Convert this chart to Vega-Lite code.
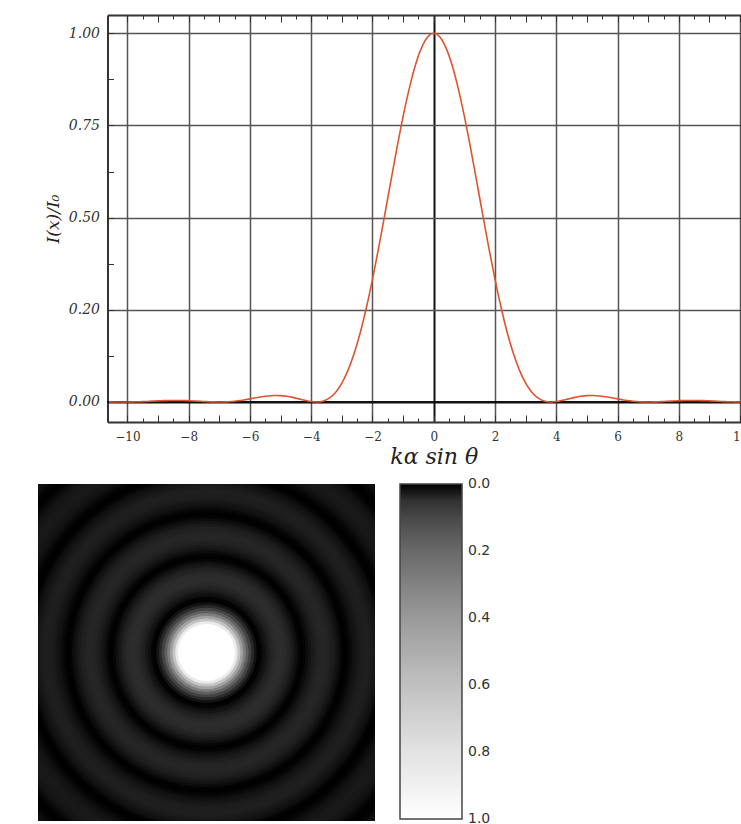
{
  "$schema": "https://vega.github.io/schema/vega-lite/v6.json",
  "background": "white",
  "padding": {"left": 38, "top": 14, "right": 0, "bottom": 0},
  "spacing": 17,
  "resolve": {"scale": {"color": "independent"}, "legend": {"color": "independent"}},
  "vconcat": [
    {
      "width": 722,
      "height": 407,
      "view": {"stroke": null},
      "data": {"values": [
        {"x": -10.6, "I": 0.0004}, {"x": -10.4, "I": 0.0001}, {"x": -10.2, "I": 0.0}, {"x": -10.0, "I": 0.0001},
        {"x": -9.8, "I": 0.0004}, {"x": -9.6, "I": 0.0008}, {"x": -9.4, "I": 0.0015}, {"x": -9.2, "I": 0.0022},
        {"x": -9.0, "I": 0.003}, {"x": -8.8, "I": 0.0036}, {"x": -8.6, "I": 0.004}, {"x": -8.4, "I": 0.0042},
        {"x": -8.2, "I": 0.004}, {"x": -8.0, "I": 0.0034}, {"x": -7.8, "I": 0.0027}, {"x": -7.6, "I": 0.0018},
        {"x": -7.4, "I": 0.0009}, {"x": -7.2, "I": 0.0002}, {"x": -7.0, "I": 0.0}, {"x": -6.8, "I": 0.0004},
        {"x": -6.6, "I": 0.0014}, {"x": -6.4, "I": 0.0032}, {"x": -6.2, "I": 0.0056}, {"x": -6.0, "I": 0.0085},
        {"x": -5.8, "I": 0.0115}, {"x": -5.6, "I": 0.0143}, {"x": -5.4, "I": 0.0164}, {"x": -5.2, "I": 0.0174},
        {"x": -5.0, "I": 0.0172}, {"x": -4.8, "I": 0.0155}, {"x": -4.6, "I": 0.0125}, {"x": -4.4, "I": 0.0085},
        {"x": -4.2, "I": 0.0044}, {"x": -4.0, "I": 0.0011}, {"x": -3.8, "I": 0.0}, {"x": -3.6, "I": 0.0028},
        {"x": -3.4, "I": 0.0111}, {"x": -3.2, "I": 0.0267}, {"x": -3.0, "I": 0.0511}, {"x": -2.8, "I": 0.0856},
        {"x": -2.6, "I": 0.1312}, {"x": -2.4, "I": 0.1879}, {"x": -2.2, "I": 0.2555}, {"x": -2.0, "I": 0.3326},
        {"x": -1.8, "I": 0.4175}, {"x": -1.6, "I": 0.5075}, {"x": -1.4, "I": 0.5993}, {"x": -1.2, "I": 0.6897},
        {"x": -1.0, "I": 0.7748}, {"x": -0.8, "I": 0.8501}, {"x": -0.6, "I": 0.9133}, {"x": -0.4, "I": 0.9604},
        {"x": -0.2, "I": 0.99}, {"x": 0.0, "I": 1.0},
        {"x": 0.2, "I": 0.99}, {"x": 0.4, "I": 0.9604}, {"x": 0.6, "I": 0.9133}, {"x": 0.8, "I": 0.8501},
        {"x": 1.0, "I": 0.7748}, {"x": 1.2, "I": 0.6897}, {"x": 1.4, "I": 0.5993}, {"x": 1.6, "I": 0.5075},
        {"x": 1.8, "I": 0.4175}, {"x": 2.0, "I": 0.3326}, {"x": 2.2, "I": 0.2555}, {"x": 2.4, "I": 0.1879},
        {"x": 2.6, "I": 0.1312}, {"x": 2.8, "I": 0.0856}, {"x": 3.0, "I": 0.0511}, {"x": 3.2, "I": 0.0267},
        {"x": 3.4, "I": 0.0111}, {"x": 3.6, "I": 0.0028}, {"x": 3.8, "I": 0.0}, {"x": 4.0, "I": 0.0011},
        {"x": 4.2, "I": 0.0044}, {"x": 4.4, "I": 0.0085}, {"x": 4.6, "I": 0.0125}, {"x": 4.8, "I": 0.0155},
        {"x": 5.0, "I": 0.0172}, {"x": 5.2, "I": 0.0174}, {"x": 5.4, "I": 0.0164}, {"x": 5.6, "I": 0.0143},
        {"x": 5.8, "I": 0.0115}, {"x": 6.0, "I": 0.0085}, {"x": 6.2, "I": 0.0056}, {"x": 6.4, "I": 0.0032},
        {"x": 6.6, "I": 0.0014}, {"x": 6.8, "I": 0.0004}, {"x": 7.0, "I": 0.0}, {"x": 7.2, "I": 0.0002},
        {"x": 7.4, "I": 0.0009}, {"x": 7.6, "I": 0.0018}, {"x": 7.8, "I": 0.0027}, {"x": 8.0, "I": 0.0034},
        {"x": 8.2, "I": 0.004}, {"x": 8.4, "I": 0.0042}, {"x": 8.6, "I": 0.004}, {"x": 8.8, "I": 0.0036},
        {"x": 9.0, "I": 0.003}, {"x": 9.2, "I": 0.0022}, {"x": 9.4, "I": 0.0015}, {"x": 9.6, "I": 0.0008},
        {"x": 9.8, "I": 0.0004}, {"x": 10.0, "I": 0.0001}, {"x": 10.2, "I": 0.0}, {"x": 10.4, "I": 0.0001},
        {"x": 10.6, "I": 0.0004}
      ]},
      "layer": [
        {
          "mark": {"type": "rule", "color": "#111111", "strokeWidth": 2},
          "encoding": {
            "x": {"datum": -10.65, "type": "quantitative",
              "axis": {
                "orient": "top", "title": null, "labels": false, "grid": false,
                "domain": true, "domainColor": "#333333", "domainWidth": 2,
                "values": [-10,-9.5,-9,-8.5,-8,-7.5,-7,-6.5,-6,-5.5,-5,-4.5,-4,-3.5,-3,-2.5,-2,-1.5,-1,-0.5,0,0.5,1,1.5,2,2.5,3,3.5,4,4.5,5,5.5,6,6.5,7,7.5,8,8.5,9,9.5,10],
                "tickColor": "#333333", "tickWidth": 1,
                "tickSize": {"condition": {"test": "datum.value % 1 === 0", "value": -7}, "value": -4}
              }},
            "x2": {"datum": 10.65},
            "y": {"datum": 0, "type": "quantitative"}
          }
        },
        {
          "mark": {"type": "line", "color": "#dd5530", "strokeWidth": 1.6, "interpolate": "monotone", "clip": true},
          "encoding": {
            "x": {"field": "x", "type": "quantitative",
              "scale": {"domain": [-10.65, 10.65], "range": [69.5, 722], "nice": false, "zero": false},
              "axis": {
                "orient": "bottom",
                "values": [-10,-9.5,-9,-8.5,-8,-7.5,-7,-6.5,-6,-5.5,-5,-4.5,-4,-3.5,-3,-2.5,-2,-1.5,-1,-0.5,0,0.5,1,1.5,2,2.5,3,3.5,4,4.5,5,5.5,6,6.5,7,7.5,8,8.5,9,9.5,10],
                "title": "kα sin θ",
                "titleFont": "DejaVu Serif", "titleFontSize": 22, "titleFontStyle": "italic", "titleFontWeight": "normal", "titleColor": "#222222", "titlePadding": 1,
                "domain": true, "domainColor": "#333333", "domainWidth": 2,
                "grid": true,
                "gridColor": {"condition": {"test": "datum.value === 0", "value": "#111111"}, "value": "#555555"},
                "gridOpacity": {"condition": {"test": "datum.value % 2 === 0", "value": 1}, "value": 0},
                "gridWidth": {"condition": {"test": "datum.value === 0", "value": 2}, "value": 1.5},
                "tickColor": "#333333", "tickWidth": 1,
                "tickSize": {"condition": {"test": "datum.value % 1 === 0", "value": -7}, "value": -4},
                "labelExpr": "datum.value % 2 === 0 ? format(datum.value, 'd') : ''",
                "labelFont": "DejaVu Serif", "labelFontSize": 12, "labelColor": "#333333",
                "labelPadding": 16, "labelOverlap": false, "labelFlush": false, "labelBound": false
              }},
            "y": {"field": "I", "type": "quantitative",
              "scale": {"domain": [-0.0543, 1.0497], "nice": false, "zero": false},
              "axis": {
                "orient": "left",
                "offset": -69.5,
                "values": [0,0.0625,0.125,0.1875,0.25,0.3125,0.375,0.4375,0.5,0.5625,0.625,0.6875,0.75,0.8125,0.875,0.9375,1],
                "title": "I(x)/I₀",
                "titleFont": "DejaVu Serif", "titleFontSize": 17, "titleFontStyle": "italic", "titleFontWeight": "normal", "titleColor": "#222222", "titlePadding": 6,
                "domain": true, "domainColor": "#333333", "domainWidth": 2,
                "grid": true,
                "gridColor": {"condition": {"test": "datum.value === 0", "value": "#111111"}, "value": "#555555"},
                "gridOpacity": {"condition": {"test": "datum.value * 4 % 1 === 0", "value": 1}, "value": 0},
                "gridWidth": {"condition": {"test": "datum.value === 0", "value": 2}, "value": 1.5},
                "tickColor": "#333333", "tickWidth": 1,
                "tickSize": {"condition": {"test": "datum.value * 8 % 1 === 0", "value": -6}, "value": -4},
                "labelExpr": "datum.value === 0.25 ? '0.20' : (datum.value * 4 % 1 === 0 ? format(datum.value, '.2f') : '')",
                "labelFont": "DejaVu Serif", "labelFontStyle": "italic", "labelFontSize": 14, "labelColor": "#333333",
                "labelPadding": 14, "labelOverlap": false, "labelFlush": false, "labelBound": false
              }}
          }
        }
      ],
      "resolve": {"axis": {"x": "independent"}}
    },
    {
      "width": 337,
      "height": 337,
      "view": {"fill": "#000000", "stroke": null},
      "data": {"values": [
        {"r": 17.7, "v": 0.0103}, {"r": 17.5, "v": 0.0081}, {"r": 17.3, "v": 0.0056}, {"r": 17.1, "v": 0.0032},
        {"r": 16.9, "v": 0.0013}, {"r": 16.7, "v": 0.0002}, {"r": 16.5, "v": 0.0001}, {"r": 16.3, "v": 0.0011},
        {"r": 16.1, "v": 0.0031}, {"r": 15.9, "v": 0.0058}, {"r": 15.7, "v": 0.0088}, {"r": 15.5, "v": 0.0115},
        {"r": 15.3, "v": 0.0137}, {"r": 15.1, "v": 0.0148}, {"r": 14.9, "v": 0.0149}, {"r": 14.7, "v": 0.0137},
        {"r": 14.5, "v": 0.0116}, {"r": 14.3, "v": 0.0088}, {"r": 14.1, "v": 0.0059}, {"r": 13.9, "v": 0.0031},
        {"r": 13.7, "v": 0.0011}, {"r": 13.5, "v": 0.0001}, {"r": 13.3, "v": 0.0003}, {"r": 13.1, "v": 0.0021},
        {"r": 12.9, "v": 0.0052}, {"r": 12.7, "v": 0.0091}, {"r": 12.5, "v": 0.0133}, {"r": 12.3, "v": 0.017},
        {"r": 12.1, "v": 0.0197}, {"r": 11.9, "v": 0.0209}, {"r": 11.7, "v": 0.0205}, {"r": 11.5, "v": 0.0186},
        {"r": 11.3, "v": 0.0153}, {"r": 11.1, "v": 0.0113}, {"r": 10.9, "v": 0.0072}, {"r": 10.7, "v": 0.0036},
        {"r": 10.5, "v": 0.0011}, {"r": 10.3, "v": 0.0}, {"r": 10.1, "v": 0.0009}, {"r": 9.9, "v": 0.0042},
        {"r": 9.7, "v": 0.0093}, {"r": 9.5, "v": 0.0155}, {"r": 9.3, "v": 0.0217}, {"r": 9.1, "v": 0.027},
        {"r": 8.9, "v": 0.0307}, {"r": 8.7, "v": 0.032}, {"r": 8.5, "v": 0.0308}, {"r": 8.3, "v": 0.0273},
        {"r": 8.1, "v": 0.022}, {"r": 7.9, "v": 0.0158}, {"r": 7.7, "v": 0.0096}, {"r": 7.5, "v": 0.0044},
        {"r": 7.3, "v": 0.0011}, {"r": 7.1, "v": 0.0}, {"r": 6.9, "v": 0.002}, {"r": 6.7, "v": 0.007},
        {"r": 6.5, "v": 0.0144}, {"r": 6.3, "v": 0.0229}, {"r": 6.1, "v": 0.0312}, {"r": 5.9, "v": 0.0382},
        {"r": 5.7, "v": 0.0427}, {"r": 5.5, "v": 0.044}, {"r": 5.3, "v": 0.0419}, {"r": 5.1, "v": 0.0367},
        {"r": 4.9, "v": 0.0293}, {"r": 4.7, "v": 0.0208}, {"r": 4.5, "v": 0.0124}, {"r": 4.3, "v": 0.0055},
        {"r": 4.1, "v": 0.0012}, {"r": 3.9, "v": 0.0002}, {"r": 3.7, "v": 0.0093}, {"r": 3.5, "v": 0.037},
        {"r": 3.3, "v": 0.089}, {"r": 3.1, "v": 0.17}, {"r": 2.9, "v": 0.285}, {"r": 2.7, "v": 0.437},
        {"r": 2.5, "v": 0.626}, {"r": 2.3, "v": 0.852}, {"r": 2.1, "v": 1.0}
      ]},
      "mark": {"type": "arc", "clip": true, "theta": 0, "theta2": 6.2832},
      "encoding": {
        "radius": {"field": "r", "type": "quantitative", "stack": null,
          "scale": {"type": "linear", "domain": [0, 12.4], "range": [0, 168.5], "zero": true, "nice": false}},
        "color": {"field": "v", "type": "quantitative",
          "scale": {"type": "linear",
            "domain": [1.0002, 0.8, 0.6, 0.4, 0.2, 0.1, 0.05, 0.02, 0.01, 0.005, -0.0002],
            "range": ["#ffffff", "#e2e2e2", "#c0c0c0", "#9a9a9a", "#696969", "#484848", "#313131", "#1e1e1e", "#141414", "#0e0e0e", "#000000"],
            "interpolate": "rgb", "nice": false, "zero": false},
          "legend": {
            "title": null, "orient": "right", "offset": 25, "padding": 0,
            "gradientLength": 335, "gradientThickness": 62,
            "gradientStrokeColor": "#444444", "gradientStrokeWidth": 1.5,
            "values": [0, 0.2, 0.4, 0.6, 0.8, 1], "format": ".1f",
            "labelFont": "DejaVu Sans", "labelFontSize": 14, "labelColor": "#333333", "labelOffset": 6,
            "labelOverlap": false
          }}
      }
    }
  ]
}
